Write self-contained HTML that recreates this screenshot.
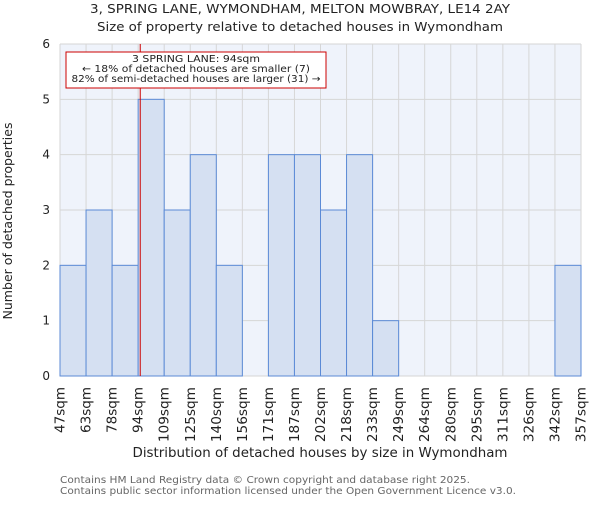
<!DOCTYPE html>
<html><head><meta charset="utf-8"><style>
body{margin:0;background:#fff;}
svg{font-family:"DejaVu Sans","Liberation Sans",sans-serif;}
</style></head><body>
<svg id="chart" width="600" height="500">
<text x="300" y="13" text-anchor="middle" font-size="12" textLength="420" lengthAdjust="spacingAndGlyphs" fill="#222">3, SPRING LANE, WYMONDHAM, MELTON MOWBRAY, LE14 2AY</text>
<text x="300" y="31" text-anchor="middle" font-size="12" textLength="406" lengthAdjust="spacingAndGlyphs" fill="#222">Size of property relative to detached houses in Wymondham</text>
<g id="plot"></g>
<text x="320" y="457" text-anchor="middle" font-size="13" textLength="375" lengthAdjust="spacingAndGlyphs" fill="#222">Distribution of detached houses by size in Wymondham</text>
<text transform="translate(12,221) rotate(-90)" text-anchor="middle" font-size="12" textLength="197" lengthAdjust="spacingAndGlyphs" fill="#222">Number of detached properties</text>
<text x="60" y="483" font-size="10" textLength="410" lengthAdjust="spacingAndGlyphs" fill="#666">Contains HM Land Registry data © Crown copyright and database right 2025.</text>
<text x="60" y="494" font-size="10" textLength="456" lengthAdjust="spacingAndGlyphs" fill="#666">Contains public sector information licensed under the Open Government Licence v3.0.</text>
</svg>
<script>
const binLabels=["47sqm","63sqm","78sqm","94sqm","109sqm","125sqm","140sqm","156sqm","171sqm","187sqm","202sqm","218sqm","233sqm","249sqm","264sqm","280sqm","295sqm","311sqm","326sqm","342sqm","357sqm"];
const counts=[2,3,2,5,3,4,2,0,4,4,3,4,1,0,0,0,0,0,0,2];
const yTicks=[0,1,2,3,4,5,6];
const markerIndex=3.08;
const NS="http://www.w3.org/2000/svg";
const g=document.getElementById('plot');
const L=60,R=581,T=44,B=376;
const bw=(R-L)/counts.length;
const x=i=>L+i*bw;
const y=v=>B-(v/6)*(B-T);
function mk(t,a){const e=document.createElementNS(NS,t);for(const k in a)e.setAttribute(k,a[k]);g.appendChild(e);return e;}
let bg=mk('rect',{x:L,y:T,width:R-L,height:B-T,fill:'#eff3fb'});


for(let i=0;i<=counts.length;i++){let l=mk('line',{x1:x(i),x2:x(i),y1:T,y2:B,stroke:'#d6d6d6','stroke-width':1});

}
yTicks.forEach(v=>{let l=mk('line',{x1:L,x2:R,y1:y(v),y2:y(v),stroke:'#d6d6d6','stroke-width':1});


let t=mk('text',{x:L-10,y:y(v)+4,'text-anchor':'end','font-size':12,fill:'#222'});t.textContent=v;

});
counts.forEach((c,i)=>{if(c<=0)return;let r=mk('rect',{x:x(i),y:y(c),width:bw,height:B-y(c),fill:'#d5e0f2',stroke:'#5b8ad6','stroke-width':1});

});
binLabels.forEach((lb,i)=>{let t=mk('text',{transform:`translate(${x(i)+4.5},${B+11}) rotate(-90)`,'text-anchor':'end','font-size':13,textLength:lb.length*9.2,lengthAdjust:'spacingAndGlyphs',fill:'#222'});t.textContent=lb;

});
let ml=mk('line',{x1:x(markerIndex),x2:x(markerIndex),y1:T,y2:B,stroke:'#cc0000','stroke-width':1});


let box=mk('rect',{x:66,y:52,width:260,height:36,fill:'#fff',stroke:'#cc0000','stroke-width':1});


const annLens=[128,228,249];
["3 SPRING LANE: 94sqm","← 18% of detached houses are smaller (7)","82% of semi-detached houses are larger (31) →"].forEach((s,k)=>{let t=mk('text',{x:196,y:62+k*10,'text-anchor':'middle','font-size':10,textLength:annLens[k],lengthAdjust:'spacingAndGlyphs',fill:'#222'});t.textContent=s;

});
</script>
</body></html>
